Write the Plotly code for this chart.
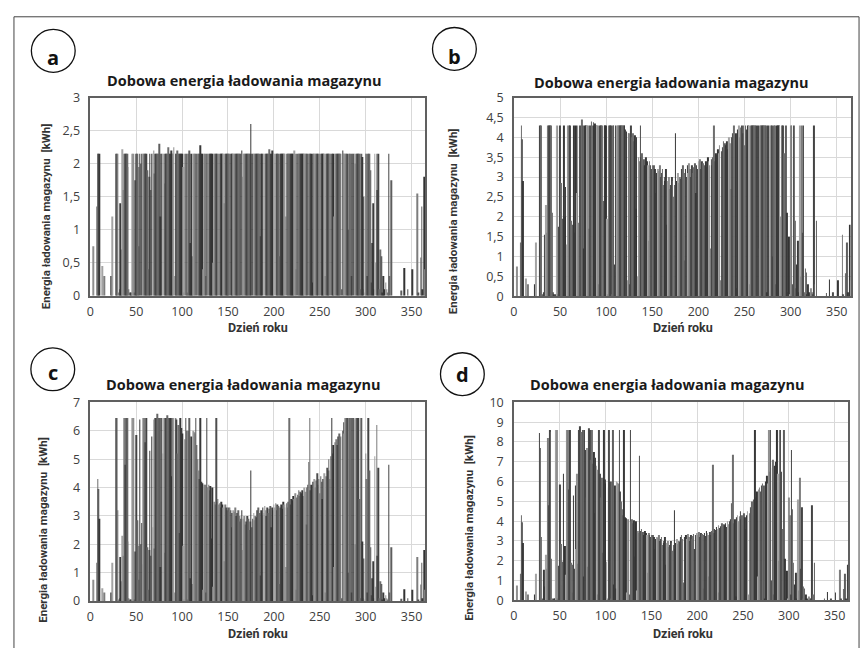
import plotly.graph_objects as go

days = list(range(1, 366))

energy_a = [
0, 0, 0.75, 0, 0, 0, 1.35, 2.15, 2.15, 2.15,
0, 0, 0.45, 0, 0.3, 0, 0, 0, 0, 0,
0, 0, 0.3, 1.2, 0, 0, 0, 2.15, 2.15, 2.15,
0.05, 0.1, 1.4, 0.7, 2.22, 1.6, 2.15, 2.15, 2.15, 2.15,
1.95, 0.1, 0.05, 0.05, 0.05, 2.15, 2.15, 0.05, 1.75, 2.15,
2.15, 0.75, 1.95, 2.15, 2.0, 2.15, 1.3, 2.15, 2.15, 2.15,
2.15, 1.9, 0.4, 1.8, 2.15, 1.6, 2.15, 2.15, 2.2, 1.85,
2.15, 2.15, 2.15, 2.15, 2.3, 1.2, 2.15, 2.15, 2.15, 2.15,
1.7, 2.15, 2.15, 2.15, 2.25, 2.15, 2.15, 2.2, 2.15, 2.15,
2.25, 0.3, 2.15, 2.15, 2.2, 2.15, 2.15, 2.15, 2.15, 2.15,
1.95, 0.05, 2.15, 2.15, 2.15, 0.05, 2.15, 2.2, 0.8, 2.15,
0.6, 2.15, 2.15, 2.15, 2.15, 2.15, 2.15, 2.15, 2.15, 2.28,
2.15, 2.15, 0.4, 2.15, 2.15, 0.3, 2.15, 2.15, 2.15, 2.15,
2.15, 2.15, 2.15, 0.5, 2.15, 2.15, 2.15, 2.15, 2.15, 2.15,
2.15, 2.15, 2.15, 2.15, 2.15, 1.4, 2.15, 2.15, 2.15, 2.15,
2.15, 2.15, 2.15, 2.15, 2.15, 2.15, 2.15, 2.15, 2.15, 2.15,
2.15, 2.15, 2.15, 2.15, 2.2, 1.8, 2.15, 2.15, 2.15, 2.15,
2.15, 2.15, 2.15, 2.15, 2.6, 2.15, 2.15, 2.15, 2.15, 2.15,
2.15, 2.15, 2.15, 2.15, 0.9, 2.15, 2.15, 2.15, 2.15, 2.15,
2.15, 2.15, 2.15, 2.15, 2.22, 2.15, 2.15, 2.2, 2.15, 2.15,
2.15, 2.15, 2.15, 2.15, 2.15, 0.6, 2.15, 2.15, 2.15, 2.15,
2.15, 2.15, 1.2, 2.15, 2.15, 2.15, 2.15, 2.15, 2.15, 2.15,
2.15, 2.2, 2.15, 0.4, 2.15, 2.15, 2.15, 2.15, 2.15, 2.15,
2.15, 2.15, 2.15, 2.15, 2.15, 2.15, 2.15, 2.15, 2.15, 2.15,
2.15, 0.2, 2.15, 2.15, 2.15, 2.15, 2.15, 2.15, 2.15, 2.15,
2.15, 2.15, 2.15, 2.15, 2.15, 0.3, 2.15, 2.15, 2.15, 2.15,
2.15, 2.15, 2.15, 2.15, 2.15, 1.2, 2.15, 2.15, 2.15, 2.15,
2.15, 2.15, 2.15, 0.1, 2.2, 2.15, 2.15, 2.15, 2.15, 2.15,
1.0, 2.15, 2.15, 0.3, 2.15, 2.15, 2.15, 2.15, 2.0, 2.15,
2.15, 2.15, 2.15, 0.1, 2.15, 2.1, 0.1, 1.5, 0.05, 2.15,
2.15, 0.3, 2.15, 2.15, 1.9, 0.2, 0.8, 1.4, 0.1, 2.15,
0.5, 2.15, 1.6, 2.15, 0.1, 0.7, 0.6, 0.05, 0.3, 0.1,
0, 0.2, 0.1, 0.05, 2.15, 0.3, 0, 1.75, 0, 0,
0, 0, 0, 0, 0, 0, 0, 0, 0.08, 0,
0, 0.42, 0, 0, 0, 0.1, 0, 0, 0, 0,
0.4, 0, 0, 0, 0, 1.55, 0.05, 0, 0, 0.58,
1.35, 0.1, 0, 1.8, 0.4,
]

energy_b = [
0, 0, 0.75, 0, 0, 0, 1.35, 4.3, 3.95, 2.9,
0, 0, 0.45, 0, 0.3, 0, 0, 0, 0, 0,
0, 0, 0.3, 1.35, 0, 0, 0, 4.3, 4.3, 3.2,
0.05, 0.1, 1.55, 0.7, 2.3, 1.6, 4.3, 4.3, 4.3, 4.3,
2.1, 0.1, 0.05, 0.05, 0.05, 4.3, 4.3, 0.05, 1.75, 4.3,
2.85, 0.75, 1.95, 4.3, 2.0, 2.75, 1.3, 4.3, 4.3, 4.3,
4.3, 1.9, 0.4, 1.8, 4.3, 1.6, 4.3, 2.6, 4.3, 1.85,
4.3, 4.3, 4.3, 4.45, 4.3, 1.2, 4.3, 4.3, 4.3, 4.3,
1.7, 4.3, 4.3, 4.4, 4.3, 4.38, 4.3, 4.35, 4.3, 4.3,
4.3, 0.3, 4.3, 4.3, 4.3, 4.3, 2.4, 4.3, 4.3, 4.3,
1.95, 0.05, 4.3, 4.3, 4.3, 0.05, 4.3, 4.3, 0.8, 4.3,
0.6, 4.3, 4.3, 4.3, 4.3, 4.3, 4.3, 4.3, 4.3, 4.3,
4.2, 4.15, 0.4, 4.1, 4.1, 0.3, 4.3, 4.0, 4.1, 3.9,
4.05, 2.2, 4.0, 0.5, 3.5, 3.4, 4.3, 3.5, 3.6, 3.4,
3.45, 3.3, 3.5, 3.4, 3.3, 1.4, 3.4, 3.3, 3.2, 3.3,
3.15, 3.3, 3.2, 2.6, 3.1, 3.2, 3.15, 3.3, 3.0, 3.1,
3.2, 2.8, 3.0, 2.9, 3.2, 1.8, 2.9, 3.0, 2.7, 2.8,
3.0, 2.9, 2.5, 2.8, 4.1, 2.6, 2.9, 3.1, 2.85, 3.0,
2.95, 3.2, 3.3, 3.1, 0.9, 3.2, 3.0, 3.3, 3.1, 3.35,
3.2, 3.0, 3.3, 3.1, 3.25, 3.35, 2.6, 3.3, 3.2, 3.4,
3.3, 3.45, 3.2, 3.4, 3.35, 0.6, 3.3, 3.4, 3.25, 3.5,
3.4, 3.3, 1.2, 3.45, 3.3, 3.5, 4.3, 3.4, 3.6, 3.55,
3.7, 3.6, 3.8, 0.4, 3.65, 3.75, 3.9, 3.7, 3.85, 3.8,
3.9, 3.7, 4.0, 3.85, 2.7, 4.0, 4.1, 4.3, 4.3, 3.9,
4.1, 0.2, 4.2, 4.3, 4.0, 4.25, 4.3, 4.1, 4.3, 3.8,
4.3, 4.2, 3.6, 4.3, 4.3, 0.3, 4.3, 4.3, 4.3, 4.3,
4.3, 4.3, 4.3, 4.3, 4.3, 1.2, 4.3, 4.3, 4.3, 4.3,
4.3, 4.3, 4.3, 0.1, 4.3, 4.3, 4.3, 4.3, 4.3, 4.3,
1.0, 4.3, 4.3, 0.3, 4.3, 4.3, 4.3, 4.3, 2.0, 4.3,
4.3, 4.3, 3.6, 0.1, 4.3, 2.1, 0.1, 1.5, 0.05, 4.3,
4.3, 0.3, 4.3, 4.3, 1.9, 0.2, 0.8, 1.4, 0.1, 4.3,
0.5, 4.3, 1.6, 4.3, 0.1, 0.7, 0.6, 0.05, 0.3, 0.1,
0, 0.2, 0.1, 0.05, 4.3, 0.3, 0, 1.9, 0, 0,
0, 0, 0, 0, 0, 0, 0, 0, 0.08, 0,
0, 0.42, 0, 0, 0, 0.1, 0, 0, 0, 0,
0.4, 0, 0, 0, 0, 1.55, 0.05, 0, 0, 0.58,
1.35, 0.1, 0, 1.8, 0.4,
]

energy_c = [
0, 0, 0.75, 0, 0, 0, 1.35, 4.3, 3.95, 2.9,
0, 0, 0.45, 0, 0.3, 0, 0, 0, 0, 0,
0, 0, 0.3, 1.35, 0, 0, 0, 6.45, 6.45, 3.2,
0.05, 0.1, 1.55, 0.7, 2.3, 1.6, 6.45, 4.8, 6.45, 6.45,
2.1, 0.1, 0.05, 0.05, 0.05, 6.45, 6.45, 0.05, 1.75, 5.85,
2.85, 0.75, 1.95, 6.4, 2.0, 2.75, 1.3, 6.45, 6.45, 5.6,
6.45, 1.9, 0.4, 1.8, 5.3, 1.6, 5.8, 2.6, 6.4, 1.85,
6.45, 6.45, 6.6, 6.45, 6.45, 1.2, 6.45, 6.45, 5.2, 6.45,
1.7, 6.45, 6.45, 6.55, 6.45, 6.45, 6.45, 4.4, 6.45, 6.45,
6.45, 0.3, 6.45, 6.4, 5.2, 6.2, 2.4, 6.45, 6.1, 5.9,
1.95, 0.05, 5.7, 6.45, 6.0, 0.05, 6.0, 6.45, 0.8, 5.8,
0.6, 6.0, 5.95, 5.9, 6.45, 5.5, 5.0, 4.6, 4.3, 6.45,
4.2, 4.15, 0.4, 4.1, 4.1, 0.3, 6.45, 4.0, 4.1, 3.9,
4.05, 2.2, 4.0, 0.5, 3.5, 3.4, 6.45, 3.5, 3.6, 3.4,
3.45, 3.3, 3.5, 3.4, 3.3, 1.4, 3.4, 3.3, 3.2, 3.3,
3.15, 3.3, 3.2, 2.6, 3.1, 3.2, 3.15, 3.3, 3.0, 3.1,
3.2, 2.8, 3.0, 2.9, 3.2, 1.8, 2.9, 3.0, 2.7, 2.8,
3.0, 2.9, 2.5, 2.8, 4.6, 2.6, 2.9, 3.1, 2.85, 3.0,
2.95, 3.2, 3.3, 3.1, 0.9, 3.2, 3.0, 3.3, 3.1, 3.35,
3.2, 3.0, 3.3, 3.1, 3.25, 3.35, 2.6, 3.3, 3.2, 3.4,
3.3, 3.45, 3.2, 3.4, 3.35, 0.6, 3.3, 3.4, 3.25, 3.5,
3.4, 3.3, 1.2, 3.45, 3.3, 3.5, 6.45, 3.4, 3.6, 3.55,
3.7, 3.6, 3.8, 0.4, 3.65, 3.75, 3.9, 3.7, 3.85, 3.8,
3.9, 3.7, 4.0, 3.85, 2.7, 4.0, 4.1, 4.9, 6.45, 3.9,
4.1, 0.2, 4.2, 4.3, 4.0, 4.25, 4.5, 4.1, 4.3, 3.8,
4.4, 4.2, 3.6, 4.3, 4.5, 0.3, 4.4, 4.7, 4.6, 5.0,
4.3, 5.1, 6.45, 5.2, 5.5, 1.2, 5.6, 5.7, 5.5, 5.8,
5.9, 5.75, 5.8, 0.1, 6.0, 6.3, 5.9, 6.45, 6.45, 6.45,
1.0, 6.45, 6.45, 0.3, 6.45, 6.45, 6.45, 6.4, 2.0, 6.45,
6.45, 6.45, 3.6, 0.1, 6.45, 2.1, 0.1, 1.5, 0.05, 5.2,
4.3, 0.3, 6.45, 4.6, 1.9, 0.2, 0.8, 1.4, 0.1, 5.1,
0.5, 6.2, 1.6, 4.7, 0.1, 0.7, 0.6, 0.05, 0.3, 0.1,
0, 0.2, 0.1, 0.05, 4.8, 0.3, 0, 1.9, 0, 0,
0, 0, 0, 0, 0, 0, 0, 0, 0.08, 0,
0, 0.42, 0, 0, 0, 0.1, 0, 0, 0, 0,
0.4, 0, 0, 0, 0, 1.55, 0.05, 0, 0, 0.58,
1.35, 0.1, 0, 1.8, 0.4,
]

energy_d = [
0, 0, 0.75, 0, 0, 0, 1.35, 4.3, 3.95, 2.9,
0, 0, 0.45, 0, 0.3, 0, 0, 0, 0, 0,
0, 0, 0.3, 1.35, 0, 0, 0, 8.45, 7.7, 3.2,
0.05, 0.1, 1.55, 0.7, 2.3, 1.6, 8.2, 4.8, 8.6, 8.5,
2.1, 0.1, 0.05, 0.05, 0.05, 8.6, 8.6, 0.05, 1.75, 5.85,
2.85, 0.75, 1.95, 6.4, 2.0, 2.75, 1.3, 8.6, 8.6, 5.6,
8.6, 1.9, 0.4, 1.8, 5.3, 1.6, 5.8, 2.6, 6.4, 1.85,
8.6, 8.8, 8.5, 7.9, 8.6, 1.2, 8.6, 7.6, 5.2, 7.7,
1.7, 8.7, 8.6, 7.1, 8.6, 6.9, 7.5, 4.4, 7.2, 6.8,
6.6, 0.3, 8.6, 6.4, 5.2, 6.2, 2.4, 8.6, 6.1, 5.9,
1.95, 0.05, 5.7, 8.6, 6.0, 0.05, 6.0, 8.6, 0.8, 5.8,
0.6, 6.0, 5.95, 5.9, 8.6, 5.5, 5.0, 4.6, 4.3, 8.6,
4.2, 4.15, 0.4, 4.1, 4.1, 0.3, 8.6, 4.0, 4.1, 3.9,
4.05, 2.2, 4.0, 0.5, 3.5, 3.4, 7.3, 3.5, 3.6, 3.4,
3.45, 3.3, 3.5, 3.4, 3.3, 1.4, 3.4, 3.3, 3.2, 3.3,
3.15, 3.3, 3.2, 2.6, 3.1, 3.2, 3.15, 3.3, 3.0, 3.1,
3.2, 2.8, 3.0, 2.9, 3.2, 1.8, 2.9, 3.0, 2.7, 2.8,
3.0, 2.9, 2.5, 2.8, 4.55, 2.6, 2.9, 3.1, 2.85, 3.0,
2.95, 3.2, 3.3, 3.1, 0.9, 3.2, 3.0, 3.3, 3.1, 3.35,
3.2, 3.0, 3.3, 3.1, 3.25, 3.35, 2.6, 3.3, 3.2, 3.4,
3.3, 3.45, 3.2, 3.4, 3.35, 0.6, 3.3, 3.4, 3.25, 3.5,
3.4, 3.3, 1.2, 3.45, 3.3, 3.5, 6.85, 3.4, 3.6, 3.55,
3.7, 3.6, 3.8, 0.4, 3.65, 3.75, 3.9, 3.7, 3.85, 3.8,
3.9, 3.7, 4.0, 3.85, 2.7, 4.0, 4.1, 4.9, 7.35, 3.9,
4.1, 0.2, 4.2, 4.3, 4.0, 4.25, 4.5, 4.1, 4.3, 3.8,
4.4, 4.2, 3.6, 4.3, 4.5, 0.3, 4.4, 4.7, 4.6, 5.0,
4.3, 5.1, 8.6, 5.2, 5.5, 1.2, 5.6, 5.7, 5.5, 5.8,
5.9, 5.75, 5.8, 0.1, 6.0, 6.3, 5.9, 8.6, 6.5, 8.6,
1.0, 6.7, 7.1, 0.3, 6.8, 7.0, 8.6, 6.4, 2.0, 8.6,
8.6, 6.5, 3.6, 0.1, 8.6, 2.1, 0.1, 1.5, 0.05, 5.2,
4.3, 0.3, 7.6, 4.6, 1.9, 0.2, 0.8, 1.4, 0.1, 5.1,
0.5, 6.2, 1.6, 4.7, 0.1, 0.7, 0.6, 0.05, 0.3, 0.1,
0, 0.2, 0.1, 0.05, 4.8, 0.3, 0, 1.9, 0, 0,
0, 0, 0, 0, 0, 0, 0, 0, 0.08, 0,
0, 0.42, 0, 0, 0, 0.1, 0, 0, 0, 0,
0.4, 0, 0, 0, 0, 1.55, 0.05, 0, 0, 0.58,
1.35, 0.1, 0, 1.8, 0.4,
]

x_ticks = [0, 50, 100, 150, 200, 250, 300, 350]
y_ticks_a = [0, 0.5, 1, 1.5, 2, 2.5, 3]
y_text_a = ["0", "0,5", "1", "1,5", "2", "2,5", "3"]
y_ticks_b = [0, 0.5, 1, 1.5, 2, 2.5, 3, 3.5, 4, 4.5, 5]
y_text_b = ["0", "0,5", "1", "1,5", "2", "2,5", "3", "3,5", "4", "4,5", "5"]
y_ticks_c = [0, 1, 2, 3, 4, 5, 6, 7]
y_ticks_d = [0, 1, 2, 3, 4, 5, 6, 7, 8, 9, 10]

title_text = "Dobowa energia ładowania magazynu"
y_title = "Energia ładowania magazynu  [kWh]"
x_title = "Dzień roku"
panel_letters = ["a", "b", "c", "d"]

W, H = 867, 648


def px(x):
    return x / W


def py(y):
    return 1 - y / H


# panel geometry in pixels: left, right, top, bottom
panels = [
    dict(l=86.7, r=423.3, t=91, b=294.5),
    dict(l=512.3, r=850.5, t=91, b=295),
    dict(l=86.7, r=423.3, t=404, b=608),
    dict(l=512.3, r=848.3, t=404, b=607.3),
]

series = [energy_a, energy_b, energy_c, energy_d]
yranges = [[0, 3], [0, 5], [0, 7], [0, 10]]
yticks = [(y_ticks_a, y_text_a), (y_ticks_b, y_text_b),
          (y_ticks_c, [str(v) for v in y_ticks_c]),
          (y_ticks_d, [str(v) for v in y_ticks_d])]

# shades of grey imitating the anti-aliased hairline bars of the original
shade_palette = ["#333333", "#5e5e5e", "#444444", "#8f8f8f", "#3b3b3b", "#6e6e6e",
                 "#4d4d4d", "#a3a3a3", "#383838", "#666666", "#7d7d7d"]
bar_colors = [shade_palette[(k * 7) % len(shade_palette)] for k in range(len(days))]

fig = go.Figure()
tick_font = dict(family="Open Sans, Arial, sans-serif", size=12.5, color="#404040")
bold_font = "Open Sans, Arial, sans-serif"

for i, (p, vals) in enumerate(zip(panels, series)):
    n = "" if i == 0 else str(i + 1)
    fig.add_trace(go.Bar(x=days, y=vals, xaxis="x" + n, yaxis="y" + n,
                         marker=dict(color=bar_colors, line=dict(width=0)),
                         showlegend=False))
    fig.layout["xaxis" + n] = dict(
        domain=[px(p["l"]), px(p["r"])], anchor="y" + n, range=[0, 365],
        tickvals=x_ticks, showgrid=True, gridcolor="#d9d9d9", gridwidth=1,
        showline=True, mirror=True, linecolor="#606060", linewidth=1.5,
        ticks="", tickfont=tick_font, ticklabelstandoff=3, zeroline=False)
    fig.layout["yaxis" + n] = dict(
        domain=[py(p["b"]), py(p["t"])], anchor="x" + n, range=yranges[i],
        tickvals=yticks[i][0], ticktext=yticks[i][1], showgrid=True,
        gridcolor="#d9d9d9", gridwidth=1, showline=True, mirror=True,
        linecolor="#606060", linewidth=1.5, ticks="", tickfont=tick_font,
        ticklabelstandoff=6, zeroline=False)

annotations = []
shapes = []
title_pos = [(242, 73), (671, 75), (241, 386), (667, 386)]
ytitle_pos = [(43, 213), (451, 218), (39, 535), (467, 533)]
xtitle_pos = [(255, 327), (682, 327), (255, 641), (682, 641)]
circle_pos = [(49.5, 43, 50), (452.5, 41, 49), (49, 370, 373), (460.5, 375, 375)]

for i in range(4):
    tx, ty = title_pos[i]
    annotations.append(dict(text="<b>" + title_text + "</b>", x=px(tx), y=py(ty),
                            xref="paper", yref="paper", showarrow=False,
                            xanchor="center", yanchor="middle",
                            font=dict(family=bold_font, size=14.5, color="#1a1a1a")))
    yx, yy = ytitle_pos[i]
    annotations.append(dict(text="<b>" + y_title + "</b>", x=px(yx), y=py(yy),
                            xref="paper", yref="paper", showarrow=False, textangle=-90,
                            xanchor="center", yanchor="middle",
                            font=dict(family="Roboto, Arial, sans-serif", size=11.5,
                                      color="#333333")))
    xx, xy = xtitle_pos[i]
    annotations.append(dict(text="<b>" + x_title + "</b>", x=px(xx), y=py(xy),
                            xref="paper", yref="paper", showarrow=False,
                            xanchor="center", yanchor="middle",
                            font=dict(family="Roboto, Arial, sans-serif", size=12.5,
                                      color="#333333")))
    cx, cy, ly = circle_pos[i]
    r = 22
    shapes.append(dict(type="circle", xref="paper", yref="paper",
                       x0=px(cx - r), x1=px(cx + r), y0=py(cy + r), y1=py(cy - r),
                       line=dict(color="#111111", width=1.3)))
    annotations.append(dict(text="<b>" + panel_letters[i] + "</b>", x=px(cx), y=py(ly),
                            xref="paper", yref="paper", showarrow=False,
                            xanchor="center", yanchor="middle",
                            font=dict(family=bold_font, size=20, color="#111111")))

shapes.append(dict(type="rect", xref="paper", yref="paper",
                   x0=px(10), x1=px(859), y0=py(670), y1=py(8),
                   line=dict(color="#444444", width=1)))

fig.update_layout(width=W, height=H, margin=dict(l=0, r=0, t=0, b=0),
                  paper_bgcolor="white", plot_bgcolor="white",
                  bargap=0.3, annotations=annotations, shapes=shapes)

fig.write_html("out.html", config={"displayModeBar": False},
               post_script="document.body.style.margin='0px';"
                           "document.body.style.padding='0px';"
                           "document.documentElement.style.overflow='hidden';")
